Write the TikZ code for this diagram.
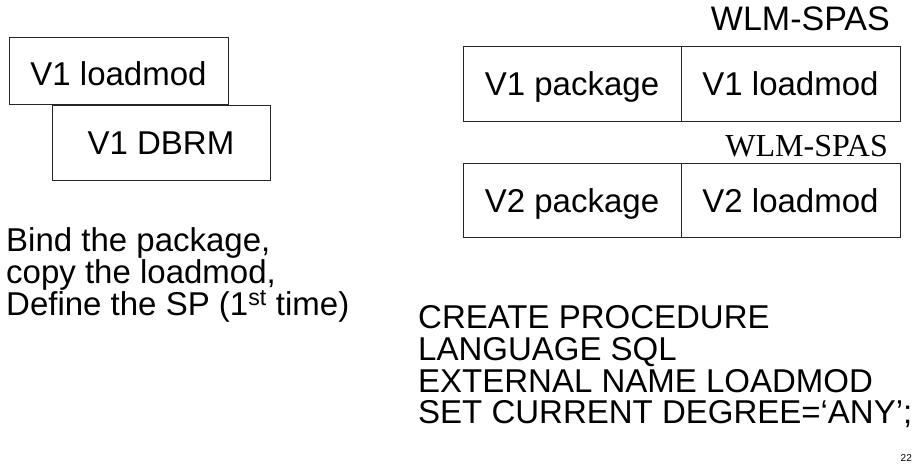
\documentclass[tikz,border=0pt]{standalone}
\usepackage{fontspec}
\setmainfont{Liberation Sans}
\newfontfamily\serifface{Liberation Serif}
\begin{document}
\begin{tikzpicture}[x=1pt,y=-1pt,
  box/.style={draw=black!85,line width=1pt,fill=white,inner sep=0pt,
    text height=24pt,text depth=0pt,font=\fontsize{33}{36}\selectfont},
  line/.style={anchor=base west,inner sep=0pt,font=\fontsize{33}{36}\selectfont},
  tag/.style={anchor=base east,inner sep=0pt}]
\useasboundingbox (0,0) rectangle (915,466);

% module pair on the left
\node[box,text height=30pt,minimum width=219pt,minimum height=67pt] (mod) at (118.5,70.5) {V1 loadmod};
\node[box,minimum width=218pt,minimum height=75pt] (dbrm) at (161,142.5) {V1 DBRM};

% V1 package/loadmod pair
\node[tag,font=\fontsize{34}{36}\selectfont] (wlm1) at (890,30) {WLM-SPAS};
\node[box,minimum width=218pt,minimum height=75pt] (pk1) at (572,83.5) {V1 package};
\node[box,minimum width=219pt,minimum height=75pt] (ld1) at (790.5,83.5) {V1 loadmod};

% V2 package/loadmod pair
\node[tag,font=\serifface\fontsize{32}{34}\selectfont] (wlm2) at (888,156.5) {WLM-SPAS};
\node[box,minimum width=218pt,minimum height=74pt] (pk2) at (572,200) {V2 package};
\node[box,minimum width=219pt,minimum height=74pt] (ld2) at (790.5,200) {V2 loadmod};

% steps
\node[line] (s1) at (6,251) {Bind the package,};
\node[line] (s2) at (6,283) {copy the loadmod,};
\node[line] (s3) at (6,315) {Define the SP (1\textsuperscript{st} time)};

% DDL
\node[line] (c1) at (418,328) {CREATE PROCEDURE};
\node[line] (c2) at (418,360) {LANGUAGE SQL};
\node[line] (c3) at (418,392) {EXTERNAL NAME LOADMOD};
\node[line] (c4) at (418,423) {SET CURRENT DEGREE=‘ANY’;};

% page number
\node[tag,font=\fontsize{10}{11}\selectfont] (pg) at (912,461) {22};
\end{tikzpicture}
\end{document}
